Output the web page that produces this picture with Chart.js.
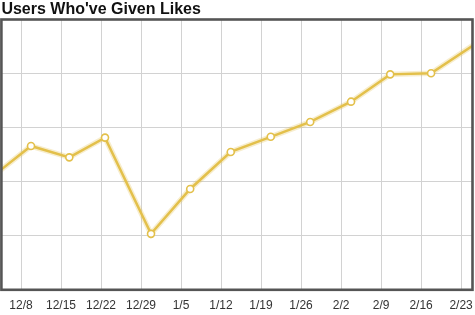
<!DOCTYPE html>
<html>
<head>
<meta charset="utf-8">
<script src="https://cdn.jsdelivr.net/npm/chart.js@4/dist/chart.umd.min.js"></script>
<style>
  body { margin: 0; background: #fff; }
</style>
</head>
<body>
<canvas id="likesChart" width="475" height="315"></canvas>
<script>
// weekly tick labels, placed at day offsets counted from 12/8
var tickLabels = ['12/8', '12/15', '12/22', '12/29', '1/5', '1/12', '1/19', '1/26', '2/2', '2/9', '2/16', '2/23'];
var tickDays = [0, 7, 14, 21, 28, 35, 42, 49, 56, 63, 70, 77];

// samples (day offset from 12/8) and their values
var sampleDays = [-5.25, 1.75, 8.45, 14.7, 22.75, 29.6, 36.7, 43.7, 50.6, 57.75, 64.6, 71.75, 80];
var likeValues = [41.5, 53.2, 49.0, 56.3, 20.7, 37.3, 51.0, 56.6, 62.1, 69.6, 79.7, 80.1, 91.7];

var points = sampleDays.map(function (d, i) { return { x: d, y: likeValues[i] }; });

// frame round the plot area
var frame = {
    id: 'frame',
    afterDatasetsDraw: function (chart) {
        var a = chart.chartArea;
        var c = chart.ctx;
        c.save();
        c.strokeStyle = '#555';
        c.lineWidth = 2.6;
        c.strokeRect(a.left, a.top, a.right - a.left, a.bottom - a.top);
        c.restore();
    }
};

Chart.defaults.font.family = 'Helvetica, Arial, "Liberation Sans", sans-serif';

var ctx = document.getElementById('likesChart').getContext('2d');
var myChart = new Chart(ctx, {
    type: 'line',
    data: {
        datasets: [{
            data: points,
            borderColor: '#e3c04b',
            borderWidth: 2.5,
            pointRadius: 3.5,
            pointBorderWidth: 1.6,
            pointBackgroundColor: '#fff',
            pointBorderColor: '#e3c04b',
            tension: 0,
            clip: 0,
            order: 0
        }, {
            data: points,
            borderColor: 'rgba(227, 192, 75, 0.28)',
            borderWidth: 5.5,
            pointRadius: 0,
            tension: 0,
            clip: 0,
            order: 1
        }]
    },
    options: {
        responsive: false,
        animation: false,
        layout: { autoPadding: false, padding: { left: 1.4, right: 2.5, top: 0, bottom: 1.8 } },
        plugins: {
            legend: { display: false },
            tooltip: { enabled: false },
            title: {
                display: true,
                text: "Users Who've Given Likes",
                align: 'start',
                color: '#111',
                font: { size: 16, weight: 'bold', lineHeight: 1.2 },
                padding: { top: 0, bottom: 0.3 }
            }
        },
        scales: {
            x: {
                type: 'linear',
                min: -3.43,
                max: 79,
                afterBuildTicks: function (scale) {
                    scale.ticks = tickDays.map(function (d) { return { value: d }; });
                },
                afterFit: function (scale) {
                    scale.paddingLeft = 0;
                    scale.paddingRight = 0;
                },
                ticks: {
                    autoSkip: false,
                    maxRotation: 0,
                    padding: 0,
                    color: '#333',
                    font: { size: 12 },
                    callback: function (value, index) { return tickLabels[index]; }
                },
                grid: { color: '#d2d2d2', drawTicks: true, tickLength: 9, tickColor: 'rgba(0,0,0,0)' },
                border: { display: false }
            },
            y: {
                min: 0,
                max: 100,
                afterFit: function (scale) {
                    scale.width = 0;
                },
                ticks: { display: false, stepSize: 20 },
                grid: { color: '#d2d2d2', drawTicks: false },
                border: { display: false }
            }
        }
    },
    plugins: [frame]
});
</script>
</body>
</html>
